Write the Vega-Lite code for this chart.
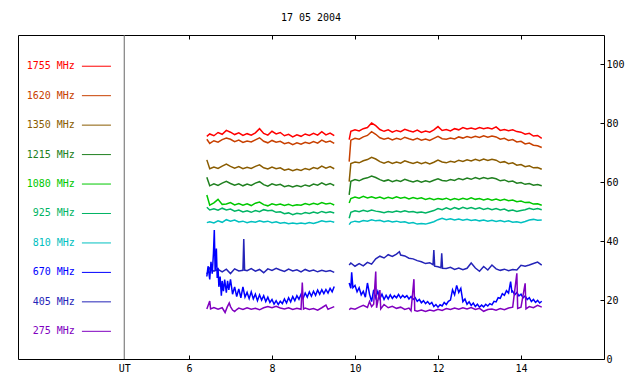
{
"$schema":"https://vega.github.io/schema/vega-lite/v6.json",
"width":586,"height":324,"autosize":"none",
"padding":{"left":18,"top":35,"right":36,"bottom":25},
"background":"white",
"config":{"view":{"stroke":"black","strokeWidth":1},"font":"DejaVu Sans Mono",
"axis":{"domain":false,"grid":false,"labelFont":"DejaVu Sans Mono","labelFontSize":10,"labelColor":"black","tickColor":"black","tickSize":-4,"title":null}},
"title":{"text":"17 05 2004","font":"DejaVu Sans Mono","fontSize":10,"fontWeight":"normal","color":"black","offset":12,"anchor":"middle"},
"datasets":{
"leg":[{"s":"1755","lab":"1755 MHz"},{"s":"1620","lab":"1620 MHz"},{"s":"1350","lab":"1350 MHz"},{"s":"1215","lab":"1215 MHz"},{"s":"1080","lab":"1080 MHz"},{"s":"925","lab":"925 MHz"},{"s":"810","lab":"810 MHz"},{"s":"670","lab":"670 MHz"},{"s":"405","lab":"405 MHz"},{"s":"275","lab":"275 MHz"}],
"obs":[
{"s":"1755","t":6.43,"v":75.6},{"s":"1755","t":6.5,"v":76.4},{"s":"1755","t":6.6,"v":75.8},{"s":"1755","t":6.7,"v":76.9},{"s":"1755","t":6.8,"v":76.3},{"s":"1755","t":6.9,"v":77.6},{"s":"1755","t":7.0,"v":77.0},{"s":"1755","t":7.1,"v":76.2},{"s":"1755","t":7.2,"v":76.8},{"s":"1755","t":7.3,"v":75.9},{"s":"1755","t":7.4,"v":76.5},{"s":"1755","t":7.5,"v":76.0},{"s":"1755","t":7.6,"v":76.8},{"s":"1755","t":7.7,"v":78.2},{"s":"1755","t":7.8,"v":76.6},{"s":"1755","t":7.9,"v":76.0},{"s":"1755","t":8.0,"v":77.3},{"s":"1755","t":8.1,"v":76.4},{"s":"1755","t":8.2,"v":76.9},{"s":"1755","t":8.3,"v":75.8},{"s":"1755","t":8.4,"v":76.3},{"s":"1755","t":8.5,"v":75.4},{"s":"1755","t":8.6,"v":76.1},{"s":"1755","t":8.7,"v":75.6},{"s":"1755","t":8.8,"v":76.4},{"s":"1755","t":8.9,"v":75.9},{"s":"1755","t":9.0,"v":76.6},{"s":"1755","t":9.1,"v":76.0},{"s":"1755","t":9.2,"v":77.2},{"s":"1755","t":9.3,"v":76.1},{"s":"1755","t":9.4,"v":76.7},{"s":"1755","t":9.5,"v":75.8},
{"s":"1755","t":9.86,"v":74.5},{"s":"1755","t":9.9,"v":77.3},{"s":"1755","t":10.0,"v":77.8},{"s":"1755","t":10.1,"v":77.4},{"s":"1755","t":10.2,"v":78.2},{"s":"1755","t":10.3,"v":78.6},{"s":"1755","t":10.4,"v":80.1},{"s":"1755","t":10.5,"v":79.2},{"s":"1755","t":10.6,"v":77.9},{"s":"1755","t":10.7,"v":77.3},{"s":"1755","t":10.8,"v":77.8},{"s":"1755","t":10.9,"v":77.0},{"s":"1755","t":11.0,"v":77.6},{"s":"1755","t":11.1,"v":77.2},{"s":"1755","t":11.2,"v":78.0},{"s":"1755","t":11.3,"v":77.5},{"s":"1755","t":11.4,"v":77.1},{"s":"1755","t":11.5,"v":77.7},{"s":"1755","t":11.6,"v":76.9},{"s":"1755","t":11.7,"v":77.4},{"s":"1755","t":11.8,"v":77.0},{"s":"1755","t":11.9,"v":77.8},{"s":"1755","t":12.0,"v":78.9},{"s":"1755","t":12.1,"v":77.6},{"s":"1755","t":12.2,"v":77.9},{"s":"1755","t":12.3,"v":77.4},{"s":"1755","t":12.4,"v":78.2},{"s":"1755","t":12.5,"v":77.8},{"s":"1755","t":12.6,"v":78.6},{"s":"1755","t":12.7,"v":78.1},{"s":"1755","t":12.8,"v":78.4},{"s":"1755","t":12.9,"v":78.0},{"s":"1755","t":13.0,"v":78.6},{"s":"1755","t":13.1,"v":78.2},{"s":"1755","t":13.2,"v":78.5},{"s":"1755","t":13.3,"v":78.1},{"s":"1755","t":13.4,"v":78.8},{"s":"1755","t":13.5,"v":77.6},{"s":"1755","t":13.6,"v":77.9},{"s":"1755","t":13.7,"v":77.5},{"s":"1755","t":13.8,"v":77.8},{"s":"1755","t":13.9,"v":77.2},{"s":"1755","t":14.0,"v":77.0},{"s":"1755","t":14.1,"v":76.3},{"s":"1755","t":14.2,"v":76.6},{"s":"1755","t":14.3,"v":75.7},{"s":"1755","t":14.4,"v":75.9},{"s":"1755","t":14.5,"v":74.9},
{"s":"1620","t":6.43,"v":74.6},{"s":"1620","t":6.5,"v":73.2},{"s":"1620","t":6.6,"v":74.1},{"s":"1620","t":6.7,"v":73.6},{"s":"1620","t":6.8,"v":74.5},{"s":"1620","t":6.9,"v":75.0},{"s":"1620","t":7.0,"v":74.6},{"s":"1620","t":7.1,"v":73.8},{"s":"1620","t":7.2,"v":74.3},{"s":"1620","t":7.3,"v":73.5},{"s":"1620","t":7.4,"v":74.0},{"s":"1620","t":7.5,"v":73.7},{"s":"1620","t":7.6,"v":74.4},{"s":"1620","t":7.7,"v":75.1},{"s":"1620","t":7.8,"v":73.9},{"s":"1620","t":7.9,"v":73.4},{"s":"1620","t":8.0,"v":74.2},{"s":"1620","t":8.1,"v":73.6},{"s":"1620","t":8.2,"v":73.9},{"s":"1620","t":8.3,"v":73.1},{"s":"1620","t":8.4,"v":73.5},{"s":"1620","t":8.5,"v":72.8},{"s":"1620","t":8.6,"v":73.4},{"s":"1620","t":8.7,"v":72.9},{"s":"1620","t":8.8,"v":73.6},{"s":"1620","t":8.9,"v":73.2},{"s":"1620","t":9.0,"v":73.8},{"s":"1620","t":9.1,"v":73.3},{"s":"1620","t":9.2,"v":74.3},{"s":"1620","t":9.3,"v":73.6},{"s":"1620","t":9.4,"v":74.0},{"s":"1620","t":9.5,"v":73.2},
{"s":"1620","t":9.86,"v":67.0},{"s":"1620","t":9.9,"v":74.3},{"s":"1620","t":10.0,"v":74.9},{"s":"1620","t":10.1,"v":74.6},{"s":"1620","t":10.2,"v":75.4},{"s":"1620","t":10.3,"v":75.9},{"s":"1620","t":10.4,"v":77.2},{"s":"1620","t":10.5,"v":76.3},{"s":"1620","t":10.6,"v":75.1},{"s":"1620","t":10.7,"v":74.6},{"s":"1620","t":10.8,"v":75.0},{"s":"1620","t":10.9,"v":74.4},{"s":"1620","t":11.0,"v":74.9},{"s":"1620","t":11.1,"v":74.5},{"s":"1620","t":11.2,"v":75.3},{"s":"1620","t":11.3,"v":74.8},{"s":"1620","t":11.4,"v":74.4},{"s":"1620","t":11.5,"v":74.9},{"s":"1620","t":11.6,"v":74.3},{"s":"1620","t":11.7,"v":74.7},{"s":"1620","t":11.8,"v":74.2},{"s":"1620","t":11.9,"v":74.9},{"s":"1620","t":12.0,"v":75.6},{"s":"1620","t":12.1,"v":74.8},{"s":"1620","t":12.2,"v":74.6},{"s":"1620","t":12.3,"v":75.0},{"s":"1620","t":12.4,"v":74.7},{"s":"1620","t":12.5,"v":75.4},{"s":"1620","t":12.6,"v":75.0},{"s":"1620","t":12.7,"v":75.5},{"s":"1620","t":12.8,"v":75.1},{"s":"1620","t":12.9,"v":75.6},{"s":"1620","t":13.0,"v":75.2},{"s":"1620","t":13.1,"v":75.8},{"s":"1620","t":13.2,"v":75.3},{"s":"1620","t":13.3,"v":75.7},{"s":"1620","t":13.4,"v":75.4},{"s":"1620","t":13.5,"v":74.6},{"s":"1620","t":13.6,"v":74.9},{"s":"1620","t":13.7,"v":74.2},{"s":"1620","t":13.8,"v":74.5},{"s":"1620","t":13.9,"v":73.7},{"s":"1620","t":14.0,"v":73.9},{"s":"1620","t":14.1,"v":73.0},{"s":"1620","t":14.2,"v":73.3},{"s":"1620","t":14.3,"v":72.6},{"s":"1620","t":14.4,"v":72.4},{"s":"1620","t":14.5,"v":71.8},
{"s":"1350","t":6.43,"v":67.6},{"s":"1350","t":6.5,"v":64.6},{"s":"1350","t":6.6,"v":65.2},{"s":"1350","t":6.7,"v":64.7},{"s":"1350","t":6.8,"v":65.5},{"s":"1350","t":6.9,"v":66.2},{"s":"1350","t":7.0,"v":65.4},{"s":"1350","t":7.1,"v":64.8},{"s":"1350","t":7.2,"v":65.3},{"s":"1350","t":7.3,"v":64.6},{"s":"1350","t":7.4,"v":65.1},{"s":"1350","t":7.5,"v":64.7},{"s":"1350","t":7.6,"v":65.4},{"s":"1350","t":7.7,"v":65.9},{"s":"1350","t":7.8,"v":64.9},{"s":"1350","t":7.9,"v":64.5},{"s":"1350","t":8.0,"v":65.2},{"s":"1350","t":8.1,"v":64.6},{"s":"1350","t":8.2,"v":64.9},{"s":"1350","t":8.3,"v":64.1},{"s":"1350","t":8.4,"v":64.5},{"s":"1350","t":8.5,"v":63.9},{"s":"1350","t":8.6,"v":64.4},{"s":"1350","t":8.7,"v":64.0},{"s":"1350","t":8.8,"v":64.7},{"s":"1350","t":8.9,"v":64.3},{"s":"1350","t":9.0,"v":65.0},{"s":"1350","t":9.1,"v":64.6},{"s":"1350","t":9.2,"v":65.5},{"s":"1350","t":9.3,"v":64.8},{"s":"1350","t":9.4,"v":65.3},{"s":"1350","t":9.5,"v":64.6},
{"s":"1350","t":9.86,"v":60.2},{"s":"1350","t":9.9,"v":66.4},{"s":"1350","t":10.0,"v":66.9},{"s":"1350","t":10.1,"v":66.6},{"s":"1350","t":10.2,"v":67.3},{"s":"1350","t":10.3,"v":67.7},{"s":"1350","t":10.4,"v":68.5},{"s":"1350","t":10.5,"v":67.9},{"s":"1350","t":10.6,"v":67.0},{"s":"1350","t":10.7,"v":66.5},{"s":"1350","t":10.8,"v":67.0},{"s":"1350","t":10.9,"v":66.4},{"s":"1350","t":11.0,"v":66.9},{"s":"1350","t":11.1,"v":66.5},{"s":"1350","t":11.2,"v":67.3},{"s":"1350","t":11.3,"v":66.8},{"s":"1350","t":11.4,"v":66.4},{"s":"1350","t":11.5,"v":66.9},{"s":"1350","t":11.6,"v":66.3},{"s":"1350","t":11.7,"v":66.8},{"s":"1350","t":11.8,"v":66.2},{"s":"1350","t":11.9,"v":66.8},{"s":"1350","t":12.0,"v":67.5},{"s":"1350","t":12.1,"v":66.9},{"s":"1350","t":12.2,"v":66.6},{"s":"1350","t":12.3,"v":67.1},{"s":"1350","t":12.4,"v":66.8},{"s":"1350","t":12.5,"v":67.5},{"s":"1350","t":12.6,"v":67.1},{"s":"1350","t":12.7,"v":67.6},{"s":"1350","t":12.8,"v":67.2},{"s":"1350","t":12.9,"v":67.8},{"s":"1350","t":13.0,"v":67.3},{"s":"1350","t":13.1,"v":67.9},{"s":"1350","t":13.2,"v":67.4},{"s":"1350","t":13.3,"v":67.8},{"s":"1350","t":13.4,"v":67.5},{"s":"1350","t":13.5,"v":66.7},{"s":"1350","t":13.6,"v":67.0},{"s":"1350","t":13.7,"v":66.3},{"s":"1350","t":13.8,"v":66.6},{"s":"1350","t":13.9,"v":65.8},{"s":"1350","t":14.0,"v":66.0},{"s":"1350","t":14.1,"v":65.3},{"s":"1350","t":14.2,"v":65.6},{"s":"1350","t":14.3,"v":64.9},{"s":"1350","t":14.4,"v":65.0},{"s":"1350","t":14.5,"v":64.4},
{"s":"1215","t":6.43,"v":61.7},{"s":"1215","t":6.5,"v":58.8},{"s":"1215","t":6.6,"v":59.5},{"s":"1215","t":6.7,"v":58.9},{"s":"1215","t":6.8,"v":59.7},{"s":"1215","t":6.9,"v":60.3},{"s":"1215","t":7.0,"v":59.6},{"s":"1215","t":7.1,"v":59.0},{"s":"1215","t":7.2,"v":59.5},{"s":"1215","t":7.3,"v":58.8},{"s":"1215","t":7.4,"v":59.4},{"s":"1215","t":7.5,"v":58.9},{"s":"1215","t":7.6,"v":59.7},{"s":"1215","t":7.7,"v":60.2},{"s":"1215","t":7.8,"v":59.2},{"s":"1215","t":7.9,"v":58.7},{"s":"1215","t":8.0,"v":59.5},{"s":"1215","t":8.1,"v":59.0},{"s":"1215","t":8.2,"v":59.3},{"s":"1215","t":8.3,"v":58.5},{"s":"1215","t":8.4,"v":58.9},{"s":"1215","t":8.5,"v":58.4},{"s":"1215","t":8.6,"v":58.9},{"s":"1215","t":8.7,"v":58.5},{"s":"1215","t":8.8,"v":59.1},{"s":"1215","t":8.9,"v":58.7},{"s":"1215","t":9.0,"v":59.4},{"s":"1215","t":9.1,"v":59.0},{"s":"1215","t":9.2,"v":59.8},{"s":"1215","t":9.3,"v":59.1},{"s":"1215","t":9.4,"v":59.6},{"s":"1215","t":9.5,"v":58.9},
{"s":"1215","t":9.86,"v":55.7},{"s":"1215","t":9.9,"v":60.3},{"s":"1215","t":10.0,"v":60.9},{"s":"1215","t":10.1,"v":60.5},{"s":"1215","t":10.2,"v":61.2},{"s":"1215","t":10.3,"v":61.5},{"s":"1215","t":10.4,"v":62.1},{"s":"1215","t":10.5,"v":61.6},{"s":"1215","t":10.6,"v":60.9},{"s":"1215","t":10.7,"v":60.4},{"s":"1215","t":10.8,"v":60.8},{"s":"1215","t":10.9,"v":60.2},{"s":"1215","t":11.0,"v":60.7},{"s":"1215","t":11.1,"v":60.3},{"s":"1215","t":11.2,"v":61.0},{"s":"1215","t":11.3,"v":60.5},{"s":"1215","t":11.4,"v":60.1},{"s":"1215","t":11.5,"v":60.6},{"s":"1215","t":11.6,"v":60.0},{"s":"1215","t":11.7,"v":60.5},{"s":"1215","t":11.8,"v":60.1},{"s":"1215","t":11.9,"v":60.7},{"s":"1215","t":12.0,"v":61.2},{"s":"1215","t":12.1,"v":60.6},{"s":"1215","t":12.2,"v":60.4},{"s":"1215","t":12.3,"v":60.9},{"s":"1215","t":12.4,"v":60.6},{"s":"1215","t":12.5,"v":61.3},{"s":"1215","t":12.6,"v":60.9},{"s":"1215","t":12.7,"v":61.4},{"s":"1215","t":12.8,"v":61.0},{"s":"1215","t":12.9,"v":61.6},{"s":"1215","t":13.0,"v":61.1},{"s":"1215","t":13.1,"v":61.6},{"s":"1215","t":13.2,"v":61.2},{"s":"1215","t":13.3,"v":61.5},{"s":"1215","t":13.4,"v":61.2},{"s":"1215","t":13.5,"v":60.5},{"s":"1215","t":13.6,"v":60.8},{"s":"1215","t":13.7,"v":60.2},{"s":"1215","t":13.8,"v":60.4},{"s":"1215","t":13.9,"v":59.7},{"s":"1215","t":14.0,"v":59.9},{"s":"1215","t":14.1,"v":59.3},{"s":"1215","t":14.2,"v":59.6},{"s":"1215","t":14.3,"v":59.0},{"s":"1215","t":14.4,"v":59.2},{"s":"1215","t":14.5,"v":58.8},
{"s":"1080","t":6.43,"v":55.7},{"s":"1080","t":6.5,"v":52.2},{"s":"1080","t":6.6,"v":53.0},{"s":"1080","t":6.7,"v":54.2},{"s":"1080","t":6.8,"v":52.5},{"s":"1080","t":6.9,"v":52.6},{"s":"1080","t":7.0,"v":53.1},{"s":"1080","t":7.1,"v":52.3},{"s":"1080","t":7.2,"v":52.8},{"s":"1080","t":7.3,"v":52.2},{"s":"1080","t":7.4,"v":52.7},{"s":"1080","t":7.5,"v":52.1},{"s":"1080","t":7.6,"v":52.9},{"s":"1080","t":7.7,"v":53.3},{"s":"1080","t":7.8,"v":52.4},{"s":"1080","t":7.9,"v":52.0},{"s":"1080","t":8.0,"v":52.7},{"s":"1080","t":8.1,"v":52.3},{"s":"1080","t":8.2,"v":52.6},{"s":"1080","t":8.3,"v":52.1},{"s":"1080","t":8.4,"v":52.5},{"s":"1080","t":8.5,"v":52.0},{"s":"1080","t":8.6,"v":52.4},{"s":"1080","t":8.7,"v":52.2},{"s":"1080","t":8.8,"v":52.8},{"s":"1080","t":8.9,"v":52.4},{"s":"1080","t":9.0,"v":52.9},{"s":"1080","t":9.1,"v":52.5},{"s":"1080","t":9.2,"v":53.1},{"s":"1080","t":9.3,"v":52.6},{"s":"1080","t":9.4,"v":52.9},{"s":"1080","t":9.5,"v":52.3},
{"s":"1080","t":9.86,"v":53.0},{"s":"1080","t":9.9,"v":54.5},{"s":"1080","t":10.0,"v":55.0},{"s":"1080","t":10.1,"v":54.6},{"s":"1080","t":10.2,"v":55.2},{"s":"1080","t":10.3,"v":54.7},{"s":"1080","t":10.4,"v":55.1},{"s":"1080","t":10.5,"v":54.6},{"s":"1080","t":10.6,"v":55.0},{"s":"1080","t":10.7,"v":54.4},{"s":"1080","t":10.8,"v":54.9},{"s":"1080","t":10.9,"v":54.5},{"s":"1080","t":11.0,"v":55.1},{"s":"1080","t":11.1,"v":54.6},{"s":"1080","t":11.2,"v":54.9},{"s":"1080","t":11.3,"v":54.3},{"s":"1080","t":11.4,"v":54.8},{"s":"1080","t":11.5,"v":54.4},{"s":"1080","t":11.6,"v":54.7},{"s":"1080","t":11.7,"v":54.2},{"s":"1080","t":11.8,"v":54.6},{"s":"1080","t":11.9,"v":54.1},{"s":"1080","t":12.0,"v":54.5},{"s":"1080","t":12.1,"v":54.2},{"s":"1080","t":12.2,"v":54.6},{"s":"1080","t":12.3,"v":54.0},{"s":"1080","t":12.4,"v":54.5},{"s":"1080","t":12.5,"v":54.1},{"s":"1080","t":12.6,"v":54.6},{"s":"1080","t":12.7,"v":54.2},{"s":"1080","t":12.8,"v":54.7},{"s":"1080","t":12.9,"v":54.2},{"s":"1080","t":13.0,"v":54.5},{"s":"1080","t":13.1,"v":54.0},{"s":"1080","t":13.2,"v":54.4},{"s":"1080","t":13.3,"v":53.9},{"s":"1080","t":13.4,"v":54.3},{"s":"1080","t":13.5,"v":53.8},{"s":"1080","t":13.6,"v":54.2},{"s":"1080","t":13.7,"v":53.7},{"s":"1080","t":13.8,"v":54.0},{"s":"1080","t":13.9,"v":53.4},{"s":"1080","t":14.0,"v":53.6},{"s":"1080","t":14.1,"v":53.1},{"s":"1080","t":14.2,"v":53.2},{"s":"1080","t":14.3,"v":52.6},{"s":"1080","t":14.4,"v":52.7},{"s":"1080","t":14.5,"v":52.2},
{"s":"925","t":6.43,"v":51.5},{"s":"925","t":6.5,"v":50.6},{"s":"925","t":6.6,"v":51.0},{"s":"925","t":6.7,"v":50.5},{"s":"925","t":6.8,"v":51.2},{"s":"925","t":6.9,"v":50.6},{"s":"925","t":7.0,"v":50.9},{"s":"925","t":7.1,"v":50.2},{"s":"925","t":7.2,"v":50.6},{"s":"925","t":7.3,"v":49.9},{"s":"925","t":7.4,"v":50.3},{"s":"925","t":7.5,"v":49.8},{"s":"925","t":7.6,"v":50.4},{"s":"925","t":7.7,"v":50.0},{"s":"925","t":7.8,"v":50.7},{"s":"925","t":7.9,"v":50.3},{"s":"925","t":8.0,"v":50.5},{"s":"925","t":8.1,"v":49.8},{"s":"925","t":8.2,"v":50.0},{"s":"925","t":8.3,"v":49.3},{"s":"925","t":8.4,"v":49.6},{"s":"925","t":8.5,"v":49.0},{"s":"925","t":8.6,"v":49.5},{"s":"925","t":8.7,"v":49.2},{"s":"925","t":8.8,"v":49.7},{"s":"925","t":8.9,"v":49.4},{"s":"925","t":9.0,"v":49.9},{"s":"925","t":9.1,"v":49.5},{"s":"925","t":9.2,"v":50.1},{"s":"925","t":9.3,"v":49.7},{"s":"925","t":9.4,"v":50.0},{"s":"925","t":9.5,"v":49.6},
{"s":"925","t":9.86,"v":47.8},{"s":"925","t":9.9,"v":49.8},{"s":"925","t":10.0,"v":50.3},{"s":"925","t":10.1,"v":50.0},{"s":"925","t":10.2,"v":50.5},{"s":"925","t":10.3,"v":50.1},{"s":"925","t":10.4,"v":50.6},{"s":"925","t":10.5,"v":50.2},{"s":"925","t":10.6,"v":50.0},{"s":"925","t":10.7,"v":49.7},{"s":"925","t":10.8,"v":50.1},{"s":"925","t":10.9,"v":49.8},{"s":"925","t":11.0,"v":50.2},{"s":"925","t":11.1,"v":49.9},{"s":"925","t":11.2,"v":50.3},{"s":"925","t":11.3,"v":49.9},{"s":"925","t":11.4,"v":50.1},{"s":"925","t":11.5,"v":49.7},{"s":"925","t":11.6,"v":49.9},{"s":"925","t":11.7,"v":49.6},{"s":"925","t":11.8,"v":50.0},{"s":"925","t":11.9,"v":50.4},{"s":"925","t":12.0,"v":51.1},{"s":"925","t":12.1,"v":50.7},{"s":"925","t":12.2,"v":51.3},{"s":"925","t":12.3,"v":50.8},{"s":"925","t":12.4,"v":51.4},{"s":"925","t":12.5,"v":50.9},{"s":"925","t":12.6,"v":51.5},{"s":"925","t":12.7,"v":51.0},{"s":"925","t":12.8,"v":51.4},{"s":"925","t":12.9,"v":50.9},{"s":"925","t":13.0,"v":51.3},{"s":"925","t":13.1,"v":50.8},{"s":"925","t":13.2,"v":51.2},{"s":"925","t":13.3,"v":50.7},{"s":"925","t":13.4,"v":51.1},{"s":"925","t":13.5,"v":50.6},{"s":"925","t":13.6,"v":50.9},{"s":"925","t":13.7,"v":50.3},{"s":"925","t":13.8,"v":50.6},{"s":"925","t":13.9,"v":50.1},{"s":"925","t":14.0,"v":50.4},{"s":"925","t":14.1,"v":50.7},{"s":"925","t":14.2,"v":51.2},{"s":"925","t":14.3,"v":50.8},{"s":"925","t":14.4,"v":51.1},{"s":"925","t":14.5,"v":50.7},
{"s":"810","t":6.43,"v":46.3},{"s":"810","t":6.5,"v":46.6},{"s":"810","t":6.6,"v":46.2},{"s":"810","t":6.7,"v":46.9},{"s":"810","t":6.8,"v":46.4},{"s":"810","t":6.9,"v":47.3},{"s":"810","t":7.0,"v":46.8},{"s":"810","t":7.1,"v":47.2},{"s":"810","t":7.2,"v":46.5},{"s":"810","t":7.3,"v":46.8},{"s":"810","t":7.4,"v":46.3},{"s":"810","t":7.5,"v":46.7},{"s":"810","t":7.6,"v":46.4},{"s":"810","t":7.7,"v":46.9},{"s":"810","t":7.8,"v":46.5},{"s":"810","t":7.9,"v":46.8},{"s":"810","t":8.0,"v":46.3},{"s":"810","t":8.1,"v":46.6},{"s":"810","t":8.2,"v":46.1},{"s":"810","t":8.3,"v":46.3},{"s":"810","t":8.4,"v":45.9},{"s":"810","t":8.5,"v":46.2},{"s":"810","t":8.6,"v":45.9},{"s":"810","t":8.7,"v":46.2},{"s":"810","t":8.8,"v":45.9},{"s":"810","t":8.9,"v":46.3},{"s":"810","t":9.0,"v":46.0},{"s":"810","t":9.1,"v":46.4},{"s":"810","t":9.2,"v":46.9},{"s":"810","t":9.3,"v":46.6},{"s":"810","t":9.4,"v":46.8},{"s":"810","t":9.5,"v":46.4},
{"s":"810","t":9.86,"v":45.6},{"s":"810","t":9.9,"v":46.4},{"s":"810","t":10.0,"v":46.8},{"s":"810","t":10.1,"v":46.5},{"s":"810","t":10.2,"v":47.0},{"s":"810","t":10.3,"v":46.8},{"s":"810","t":10.4,"v":47.3},{"s":"810","t":10.5,"v":46.9},{"s":"810","t":10.6,"v":47.1},{"s":"810","t":10.7,"v":46.6},{"s":"810","t":10.8,"v":46.9},{"s":"810","t":10.9,"v":46.5},{"s":"810","t":11.0,"v":46.8},{"s":"810","t":11.1,"v":46.4},{"s":"810","t":11.2,"v":46.6},{"s":"810","t":11.3,"v":46.1},{"s":"810","t":11.4,"v":46.3},{"s":"810","t":11.5,"v":45.8},{"s":"810","t":11.6,"v":46.0},{"s":"810","t":11.7,"v":45.8},{"s":"810","t":11.8,"v":46.2},{"s":"810","t":11.9,"v":46.6},{"s":"810","t":12.0,"v":47.3},{"s":"810","t":12.1,"v":47.8},{"s":"810","t":12.2,"v":47.3},{"s":"810","t":12.3,"v":47.6},{"s":"810","t":12.4,"v":47.2},{"s":"810","t":12.5,"v":47.5},{"s":"810","t":12.6,"v":47.1},{"s":"810","t":12.7,"v":47.4},{"s":"810","t":12.8,"v":47.0},{"s":"810","t":12.9,"v":47.3},{"s":"810","t":13.0,"v":46.9},{"s":"810","t":13.1,"v":47.2},{"s":"810","t":13.2,"v":46.8},{"s":"810","t":13.3,"v":47.1},{"s":"810","t":13.4,"v":46.7},{"s":"810","t":13.5,"v":47.0},{"s":"810","t":13.6,"v":46.6},{"s":"810","t":13.7,"v":46.9},{"s":"810","t":13.8,"v":46.4},{"s":"810","t":13.9,"v":46.6},{"s":"810","t":14.0,"v":46.3},{"s":"810","t":14.1,"v":46.7},{"s":"810","t":14.2,"v":47.2},{"s":"810","t":14.3,"v":47.4},{"s":"810","t":14.4,"v":47.1},{"s":"810","t":14.5,"v":47.2},
{"s":"405","t":6.43,"v":28.8},{"s":"405","t":6.5,"v":30.9},{"s":"405","t":6.6,"v":29.8},{"s":"405","t":6.7,"v":30.4},{"s":"405","t":6.8,"v":29.6},{"s":"405","t":6.9,"v":30.5},{"s":"405","t":7.0,"v":29.0},{"s":"405","t":7.1,"v":30.6},{"s":"405","t":7.2,"v":29.9},{"s":"405","t":7.3,"v":30.1},{"s":"405","t":7.32,"v":40.7},{"s":"405","t":7.34,"v":30.2},{"s":"405","t":7.4,"v":30.0},{"s":"405","t":7.5,"v":30.7},{"s":"405","t":7.6,"v":29.8},{"s":"405","t":7.7,"v":30.4},{"s":"405","t":7.8,"v":29.3},{"s":"405","t":7.9,"v":30.6},{"s":"405","t":8.0,"v":30.1},{"s":"405","t":8.1,"v":30.8},{"s":"405","t":8.2,"v":30.2},{"s":"405","t":8.3,"v":29.7},{"s":"405","t":8.4,"v":30.5},{"s":"405","t":8.5,"v":29.9},{"s":"405","t":8.6,"v":30.3},{"s":"405","t":8.7,"v":29.6},{"s":"405","t":8.8,"v":30.4},{"s":"405","t":8.9,"v":29.8},{"s":"405","t":9.0,"v":30.2},{"s":"405","t":9.1,"v":29.6},{"s":"405","t":9.2,"v":30.1},{"s":"405","t":9.3,"v":29.7},{"s":"405","t":9.4,"v":30.0},{"s":"405","t":9.5,"v":29.4},
{"s":"405","t":9.86,"v":31.9},{"s":"405","t":9.9,"v":32.6},{"s":"405","t":10.0,"v":31.5},{"s":"405","t":10.1,"v":32.4},{"s":"405","t":10.2,"v":31.6},{"s":"405","t":10.3,"v":32.8},{"s":"405","t":10.4,"v":32.2},{"s":"405","t":10.5,"v":34.0},{"s":"405","t":10.6,"v":34.9},{"s":"405","t":10.7,"v":34.3},{"s":"405","t":10.8,"v":35.4},{"s":"405","t":10.9,"v":34.8},{"s":"405","t":11.0,"v":35.6},{"s":"405","t":11.07,"v":36.4},{"s":"405","t":11.1,"v":35.3},{"s":"405","t":11.2,"v":35.0},{"s":"405","t":11.3,"v":34.2},{"s":"405","t":11.4,"v":34.0},{"s":"405","t":11.5,"v":33.4},{"s":"405","t":11.6,"v":33.0},{"s":"405","t":11.7,"v":32.4},{"s":"405","t":11.8,"v":32.7},{"s":"405","t":11.88,"v":32.0},{"s":"405","t":11.9,"v":37.0},{"s":"405","t":11.92,"v":31.5},{"s":"405","t":12.0,"v":31.3},{"s":"405","t":12.07,"v":31.0},{"s":"405","t":12.09,"v":35.9},{"s":"405","t":12.11,"v":30.8},{"s":"405","t":12.2,"v":30.7},{"s":"405","t":12.3,"v":31.1},{"s":"405","t":12.4,"v":30.4},{"s":"405","t":12.5,"v":30.9},{"s":"405","t":12.6,"v":30.3},{"s":"405","t":12.7,"v":30.8},{"s":"405","t":12.8,"v":32.6},{"s":"405","t":12.9,"v":30.9},{"s":"405","t":13.0,"v":29.8},{"s":"405","t":13.1,"v":31.4},{"s":"405","t":13.2,"v":30.2},{"s":"405","t":13.3,"v":31.9},{"s":"405","t":13.4,"v":30.6},{"s":"405","t":13.5,"v":30.1},{"s":"405","t":13.6,"v":30.5},{"s":"405","t":13.7,"v":30.0},{"s":"405","t":13.8,"v":30.4},{"s":"405","t":13.9,"v":30.2},{"s":"405","t":14.0,"v":31.8},{"s":"405","t":14.1,"v":31.5},{"s":"405","t":14.2,"v":31.9},{"s":"405","t":14.3,"v":32.4},{"s":"405","t":14.4,"v":32.9},{"s":"405","t":14.5,"v":31.9},
{"s":"670","t":6.43,"v":28.0},{"s":"670","t":6.46,"v":31.5},{"s":"670","t":6.5,"v":27.0},{"s":"670","t":6.53,"v":33.0},{"s":"670","t":6.56,"v":29.0},{"s":"670","t":6.59,"v":36.0},{"s":"670","t":6.61,"v":43.8},{"s":"670","t":6.63,"v":30.0},{"s":"670","t":6.66,"v":37.5},{"s":"670","t":6.68,"v":27.5},{"s":"670","t":6.7,"v":31.0},{"s":"670","t":6.72,"v":24.5},{"s":"670","t":6.75,"v":28.0},{"s":"670","t":6.78,"v":21.5},{"s":"670","t":6.8,"v":26.5},{"s":"670","t":6.83,"v":23.0},{"s":"670","t":6.86,"v":27.0},{"s":"670","t":6.9,"v":22.5},{"s":"670","t":6.93,"v":26.5},{"s":"670","t":6.96,"v":23.5},{"s":"670","t":7.0,"v":27.0},{"s":"670","t":7.05,"v":22.0},{"s":"670","t":7.1,"v":24.5},{"s":"670","t":7.15,"v":21.2},{"s":"670","t":7.2,"v":23.8},{"s":"670","t":7.25,"v":20.8},{"s":"670","t":7.3,"v":24.5},{"s":"670","t":7.35,"v":21.0},{"s":"670","t":7.4,"v":22.6},{"s":"670","t":7.45,"v":20.5},{"s":"670","t":7.5,"v":22.8},{"s":"670","t":7.55,"v":20.4},{"s":"670","t":7.6,"v":22.0},{"s":"670","t":7.65,"v":19.8},{"s":"670","t":7.7,"v":21.8},{"s":"670","t":7.75,"v":20.0},{"s":"670","t":7.8,"v":21.5},{"s":"670","t":7.85,"v":19.5},{"s":"670","t":7.9,"v":21.0},{"s":"670","t":7.95,"v":19.2},{"s":"670","t":8.0,"v":20.2},{"s":"670","t":8.05,"v":18.6},{"s":"670","t":8.1,"v":19.8},{"s":"670","t":8.15,"v":18.5},{"s":"670","t":8.2,"v":19.6},{"s":"670","t":8.25,"v":18.8},{"s":"670","t":8.3,"v":20.4},{"s":"670","t":8.35,"v":19.0},{"s":"670","t":8.4,"v":20.8},{"s":"670","t":8.45,"v":19.4},{"s":"670","t":8.5,"v":21.2},{"s":"670","t":8.55,"v":19.8},{"s":"670","t":8.6,"v":21.5},{"s":"670","t":8.65,"v":20.3},{"s":"670","t":8.7,"v":22.0},{"s":"670","t":8.75,"v":20.6},{"s":"670","t":8.8,"v":22.4},{"s":"670","t":8.85,"v":21.0},{"s":"670","t":8.9,"v":22.8},{"s":"670","t":8.95,"v":21.3},{"s":"670","t":9.0,"v":23.0},{"s":"670","t":9.05,"v":21.6},{"s":"670","t":9.1,"v":23.4},{"s":"670","t":9.15,"v":22.0},{"s":"670","t":9.2,"v":23.5},{"s":"670","t":9.25,"v":22.2},{"s":"670","t":9.3,"v":23.6},{"s":"670","t":9.35,"v":22.4},{"s":"670","t":9.4,"v":24.0},{"s":"670","t":9.45,"v":22.8},{"s":"670","t":9.5,"v":24.6},
{"s":"670","t":9.86,"v":25.8},{"s":"670","t":9.9,"v":24.0},{"s":"670","t":9.92,"v":29.4},{"s":"670","t":9.95,"v":24.2},{"s":"670","t":10.0,"v":25.0},{"s":"670","t":10.05,"v":22.8},{"s":"670","t":10.1,"v":24.2},{"s":"670","t":10.15,"v":21.8},{"s":"670","t":10.2,"v":23.0},{"s":"670","t":10.25,"v":21.0},{"s":"670","t":10.3,"v":25.8},{"s":"670","t":10.35,"v":22.0},{"s":"670","t":10.4,"v":19.5},{"s":"670","t":10.45,"v":23.5},{"s":"670","t":10.5,"v":20.8},{"s":"670","t":10.55,"v":23.0},{"s":"670","t":10.6,"v":20.5},{"s":"670","t":10.65,"v":22.0},{"s":"670","t":10.7,"v":20.2},{"s":"670","t":10.75,"v":21.6},{"s":"670","t":10.8,"v":20.4},{"s":"670","t":10.85,"v":21.8},{"s":"670","t":10.9,"v":20.6},{"s":"670","t":10.95,"v":21.5},{"s":"670","t":11.0,"v":20.8},{"s":"670","t":11.05,"v":21.9},{"s":"670","t":11.1,"v":20.7},{"s":"670","t":11.15,"v":21.6},{"s":"670","t":11.2,"v":20.9},{"s":"670","t":11.25,"v":21.5},{"s":"670","t":11.3,"v":20.4},{"s":"670","t":11.35,"v":21.2},{"s":"670","t":11.4,"v":20.2},{"s":"670","t":11.45,"v":20.8},{"s":"670","t":11.5,"v":19.6},{"s":"670","t":11.55,"v":20.2},{"s":"670","t":11.6,"v":19.1},{"s":"670","t":11.65,"v":19.8},{"s":"670","t":11.7,"v":18.8},{"s":"670","t":11.75,"v":19.5},{"s":"670","t":11.8,"v":18.6},{"s":"670","t":11.85,"v":19.2},{"s":"670","t":11.9,"v":17.8},{"s":"670","t":11.95,"v":18.5},{"s":"670","t":12.0,"v":17.6},{"s":"670","t":12.05,"v":18.4},{"s":"670","t":12.1,"v":18.0},{"s":"670","t":12.15,"v":19.2},{"s":"670","t":12.2,"v":18.5},{"s":"670","t":12.25,"v":19.6},{"s":"670","t":12.3,"v":20.0},{"s":"670","t":12.35,"v":23.5},{"s":"670","t":12.4,"v":21.8},{"s":"670","t":12.45,"v":25.0},{"s":"670","t":12.5,"v":22.6},{"s":"670","t":12.55,"v":24.0},{"s":"670","t":12.6,"v":19.5},{"s":"670","t":12.65,"v":20.4},{"s":"670","t":12.7,"v":18.6},{"s":"670","t":12.75,"v":19.4},{"s":"670","t":12.8,"v":18.2},{"s":"670","t":12.85,"v":19.0},{"s":"670","t":12.9,"v":17.8},{"s":"670","t":12.95,"v":18.6},{"s":"670","t":13.0,"v":17.6},{"s":"670","t":13.05,"v":18.3},{"s":"670","t":13.1,"v":17.7},{"s":"670","t":13.15,"v":18.6},{"s":"670","t":13.2,"v":18.0},{"s":"670","t":13.25,"v":18.8},{"s":"670","t":13.3,"v":18.4},{"s":"670","t":13.35,"v":19.6},{"s":"670","t":13.4,"v":19.4},{"s":"670","t":13.45,"v":20.8},{"s":"670","t":13.5,"v":20.6},{"s":"670","t":13.55,"v":22.2},{"s":"670","t":13.6,"v":21.6},{"s":"670","t":13.65,"v":23.2},{"s":"670","t":13.7,"v":22.4},{"s":"670","t":13.75,"v":26.3},{"s":"670","t":13.78,"v":22.8},{"s":"670","t":13.8,"v":23.0},{"s":"670","t":13.85,"v":21.8},{"s":"670","t":13.9,"v":22.6},{"s":"670","t":13.95,"v":21.4},{"s":"670","t":14.0,"v":22.0},{"s":"670","t":14.05,"v":20.8},{"s":"670","t":14.1,"v":21.4},{"s":"670","t":14.15,"v":20.2},{"s":"670","t":14.2,"v":20.8},{"s":"670","t":14.25,"v":19.5},{"s":"670","t":14.3,"v":20.2},{"s":"670","t":14.35,"v":19.2},{"s":"670","t":14.4,"v":19.9},{"s":"670","t":14.45,"v":19.0},{"s":"670","t":14.5,"v":19.6},
{"s":"275","t":6.43,"v":17.0},{"s":"275","t":6.5,"v":19.7},{"s":"275","t":6.52,"v":17.0},{"s":"275","t":6.6,"v":17.5},{"s":"275","t":6.7,"v":16.9},{"s":"275","t":6.8,"v":17.4},{"s":"275","t":6.87,"v":15.8},{"s":"275","t":6.92,"v":17.6},{"s":"275","t":6.97,"v":19.0},{"s":"275","t":7.0,"v":17.8},{"s":"275","t":7.05,"v":16.6},{"s":"275","t":7.1,"v":16.1},{"s":"275","t":7.15,"v":16.8},{"s":"275","t":7.2,"v":17.3},{"s":"275","t":7.3,"v":16.8},{"s":"275","t":7.4,"v":17.4},{"s":"275","t":7.5,"v":16.9},{"s":"275","t":7.6,"v":17.2},{"s":"275","t":7.7,"v":16.7},{"s":"275","t":7.8,"v":17.4},{"s":"275","t":7.9,"v":17.8},{"s":"275","t":8.0,"v":17.4},{"s":"275","t":8.1,"v":17.9},{"s":"275","t":8.2,"v":17.3},{"s":"275","t":8.3,"v":17.0},{"s":"275","t":8.4,"v":17.4},{"s":"275","t":8.5,"v":16.8},{"s":"275","t":8.6,"v":17.2},{"s":"275","t":8.7,"v":16.9},{"s":"275","t":8.73,"v":26.0},{"s":"275","t":8.76,"v":17.0},{"s":"275","t":8.8,"v":17.3},{"s":"275","t":8.9,"v":16.8},{"s":"275","t":9.0,"v":17.1},{"s":"275","t":9.1,"v":16.6},{"s":"275","t":9.2,"v":17.4},{"s":"275","t":9.3,"v":18.3},{"s":"275","t":9.35,"v":16.9},{"s":"275","t":9.4,"v":17.2},{"s":"275","t":9.5,"v":17.8},
{"s":"275","t":9.86,"v":16.8},{"s":"275","t":9.9,"v":17.2},{"s":"275","t":10.0,"v":16.9},{"s":"275","t":10.1,"v":17.6},{"s":"275","t":10.2,"v":18.2},{"s":"275","t":10.3,"v":17.5},{"s":"275","t":10.35,"v":19.5},{"s":"275","t":10.4,"v":17.8},{"s":"275","t":10.45,"v":18.6},{"s":"275","t":10.5,"v":29.7},{"s":"275","t":10.52,"v":17.4},{"s":"275","t":10.6,"v":23.4},{"s":"275","t":10.62,"v":17.0},{"s":"275","t":10.7,"v":18.5},{"s":"275","t":10.8,"v":17.4},{"s":"275","t":10.9,"v":17.9},{"s":"275","t":11.0,"v":17.2},{"s":"275","t":11.1,"v":17.6},{"s":"275","t":11.2,"v":16.8},{"s":"275","t":11.3,"v":17.3},{"s":"275","t":11.35,"v":16.4},{"s":"275","t":11.42,"v":27.1},{"s":"275","t":11.44,"v":16.5},{"s":"275","t":11.5,"v":16.2},{"s":"275","t":11.6,"v":16.6},{"s":"275","t":11.7,"v":16.1},{"s":"275","t":11.8,"v":16.6},{"s":"275","t":11.9,"v":16.3},{"s":"275","t":12.0,"v":16.9},{"s":"275","t":12.1,"v":16.5},{"s":"275","t":12.2,"v":17.1},{"s":"275","t":12.3,"v":16.8},{"s":"275","t":12.4,"v":17.3},{"s":"275","t":12.5,"v":16.9},{"s":"275","t":12.6,"v":17.4},{"s":"275","t":12.7,"v":17.0},{"s":"275","t":12.8,"v":17.5},{"s":"275","t":12.9,"v":16.8},{"s":"275","t":13.0,"v":17.2},{"s":"275","t":13.1,"v":16.2},{"s":"275","t":13.2,"v":16.8},{"s":"275","t":13.3,"v":17.0},{"s":"275","t":13.4,"v":16.6},{"s":"275","t":13.5,"v":17.1},{"s":"275","t":13.6,"v":16.7},{"s":"275","t":13.7,"v":17.3},{"s":"275","t":13.8,"v":17.6},{"s":"275","t":13.9,"v":29.1},{"s":"275","t":13.92,"v":17.2},{"s":"275","t":14.0,"v":17.6},{"s":"275","t":14.1,"v":25.7},{"s":"275","t":14.12,"v":17.0},{"s":"275","t":14.2,"v":17.8},{"s":"275","t":14.3,"v":17.4},{"s":"275","t":14.4,"v":18.2},{"s":"275","t":14.5,"v":17.6}
]},
"resolve":{"scale":{"y":"independent"},"axis":{"x":"independent"}},
"layer":[
{"data":{"values":[{"t":4.44}]},
 "mark":{"type":"rule","color":"#666666","strokeWidth":1},
 "encoding":{"x":{"field":"t","type":"quantitative","scale":{"domain":[1.88,16],"nice":false,"zero":false},
   "axis":{"orient":"top","values":[6,8,10,12,14],"labels":false,"tickSize":-4}}}},
{"data":{"name":"obs"},
 "transform":[{"calculate":"datum.t < 9.7 ? 'a' : 'b'","as":"g"}],
 "mark":{"type":"line","strokeWidth":1.5,"interpolate":"linear"},
 "encoding":{
  "x":{"field":"t","type":"quantitative","scale":{"domain":[1.88,16],"nice":false,"zero":false},
   "axis":{"orient":"bottom","values":[4.44,6,8,10,12,14],"labelExpr":"datum.value < 5 ? 'UT' : datum.label","tickSize":-4,"labelPadding":8,
     "tickOpacity":{"condition":{"test":"datum.value < 5","value":0},"value":1}}},
  "y":{"field":"v","type":"quantitative","scale":{"domain":[0,110],"nice":false,"zero":false},
   "axis":{"orient":"right","values":[0,20,40,60,80,100],"tickSize":-4,"labelPadding":6}},
  "color":{"field":"s","type":"nominal","legend":null,
   "scale":{"domain":["1755","1620","1350","1215","1080","925","810","670","405","275"],
    "range":["#ff0000","#c84000","#8a5c00","#208020","#00c800","#00b464","#00c0c0","#0000ff","#2424b8","#8000c0"]}},
  "detail":{"field":"g","type":"nominal"}}},
{"data":{"name":"leg"},
 "layer":[
  {"mark":{"type":"rule","strokeWidth":1},
   "encoding":{"x":{"datum":3.42,"type":"quantitative","axis":null,"scale":{"domain":[1.88,16],"nice":false,"zero":false}},"x2":{"datum":4.12},
    "y":{"field":"s","type":"nominal","axis":null,"sort":["1755","1620","1350","1215","1080","925","810","670","405","275"],"scale":{"type":"point","padding":1.044,"align":0.53}},
    "color":{"field":"s","type":"nominal","legend":null}}},
  {"mark":{"type":"text","align":"right","baseline":"middle","font":"DejaVu Sans Mono","fontSize":10},
   "encoding":{"x":{"datum":3.25,"type":"quantitative","axis":null,"scale":{"domain":[1.88,16],"nice":false,"zero":false}},
    "y":{"field":"s","type":"nominal","axis":null,"sort":["1755","1620","1350","1215","1080","925","810","670","405","275"],"scale":{"type":"point","padding":1.044,"align":0.53}},
    "text":{"field":"lab"},
    "color":{"field":"s","type":"nominal","legend":null}}}
 ]}
]
}
